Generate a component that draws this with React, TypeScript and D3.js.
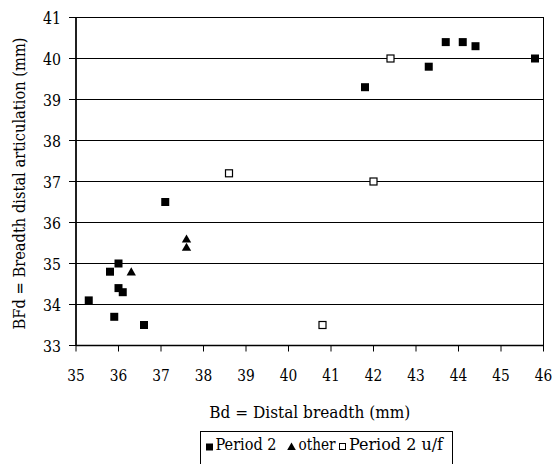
import React from "react";
import * as d3 from "d3";

const period2X = [35.3, 35.8, 36.0, 35.9, 36.0, 36.1, 36.6, 37.1, 41.8, 43.3, 43.7, 44.1, 44.4, 45.8];
const period2Y = [34.1, 34.8, 35.0, 33.7, 34.4, 34.3, 33.5, 36.5, 39.3, 39.8, 40.4, 40.4, 40.3, 40.0];
const otherX = [36.3, 37.6, 37.6];
const otherY = [34.8, 35.6, 35.4];
const ufX = [38.6, 42.4, 42.0, 40.8];
const ufY = [37.2, 40.0, 37.0, 33.5];
const xTicks = [35, 36, 37, 38, 39, 40, 41, 42, 43, 44, 45, 46];
const yTicks = [33, 34, 35, 36, 37, 38, 39, 40, 41];
const legendLabels = ["Period 2", "other", "Period 2 u/f"];

const W = 558;
const H = 464;
const left = 76;
const right = 543.5;
const top = 17.5;
const bottom = 345.5;
const TS: React.CSSProperties = { fontFamily: '"DejaVu Serif", serif', fontSize: "16.5px" };

export default function App() {
  const x = d3.scaleLinear().domain([35, 46]).range([left, right]);
  const y = d3.scaleLinear().domain([33, 41]).range([bottom, top]);
  const tri = d3.symbol().type(d3.symbolTriangle).size(38);

  return (
    <svg width={W} height={H} style={{ position: "absolute", left: 0, top: 0, background: "#fff" }}>
      <rect x={0} y={0} width={W} height={H} fill="#fff" />
      {yTicks.map((t) => (
        <line key={"g" + t} x1={left} x2={right} y1={y(t)} y2={y(t)} stroke="#000" strokeWidth={1} />
      ))}
      <rect x={left} y={top} width={right - left} height={bottom - top} fill="none" stroke="#000" strokeWidth={1} />
      <line x1={left} x2={left} y1={top} y2={bottom} stroke="#000" strokeWidth={1.5} />
      <line x1={left} x2={right} y1={bottom} y2={bottom} stroke="#000" strokeWidth={1.5} />
      {yTicks.map((t) => (
        <g key={"y" + t}>
          <line x1={left - 7} x2={left} y1={y(t)} y2={y(t)} stroke="#000" />
          <text x={61} y={y(t) + 6.5} textAnchor="end" style={TS} textLength={18} lengthAdjust="spacingAndGlyphs">
            {t}
          </text>
        </g>
      ))}
      {xTicks.map((t) => (
        <g key={"x" + t}>
          <line x1={x(t)} x2={x(t)} y1={bottom} y2={bottom + 6} stroke="#000" />
          <text x={x(t)} y={380.5} textAnchor="middle" style={TS} textLength={17.5} lengthAdjust="spacingAndGlyphs">
            {t}
          </text>
        </g>
      ))}
      <text x={(left + right) / 2} y={418} textAnchor="middle" style={TS} textLength={201} lengthAdjust="spacingAndGlyphs">
        Bd = Distal breadth (mm)
      </text>
      <text
        transform={`translate(25,${(top + bottom) / 2 + 2}) rotate(-90)`}
        textAnchor="middle"
        style={TS}
        textLength={292}
        lengthAdjust="spacingAndGlyphs"
      >
        BFd = Breadth distal articulation (mm)
      </text>
      {period2X.map((v, i) => (
        <rect key={"p" + i} x={x(v) - 4} y={y(period2Y[i]) - 4} width={8} height={8} fill="#000" />
      ))}
      {otherX.map((v, i) => (
        <path key={"o" + i} d={tri() as string} transform={`translate(${x(v)},${y(otherY[i]) + 1})`} fill="#000" />
      ))}
      {ufX.map((v, i) => (
        <rect
          key={"u" + i}
          x={x(v) - 3.5}
          y={y(ufY[i]) - 3.5}
          width={7}
          height={7}
          fill="#fff"
          stroke="#000"
          strokeWidth={1.2}
        />
      ))}
      <rect x={200.5} y={431.5} width={252} height={40} fill="#fff" stroke="#000" strokeWidth={1} />
      <rect x={206} y={443.5} width={7} height={7} fill="#000" />
      <text x={215.5} y={450} style={TS} textLength={61} lengthAdjust="spacingAndGlyphs">
        {legendLabels[0]}
      </text>
      <path d={d3.symbol().type(d3.symbolTriangle).size(32)() as string} transform="translate(291.5,447.5)" fill="#000" />
      <text x={298.5} y={450} style={TS} textLength={37} lengthAdjust="spacingAndGlyphs">
        {legendLabels[1]}
      </text>
      <rect x={339.5} y={443.5} width={6} height={6} fill="#fff" stroke="#000" strokeWidth={1} />
      <text x={349} y={450} style={TS} textLength={94} lengthAdjust="spacingAndGlyphs">
        {legendLabels[2]}
      </text>
    </svg>
  );
}
